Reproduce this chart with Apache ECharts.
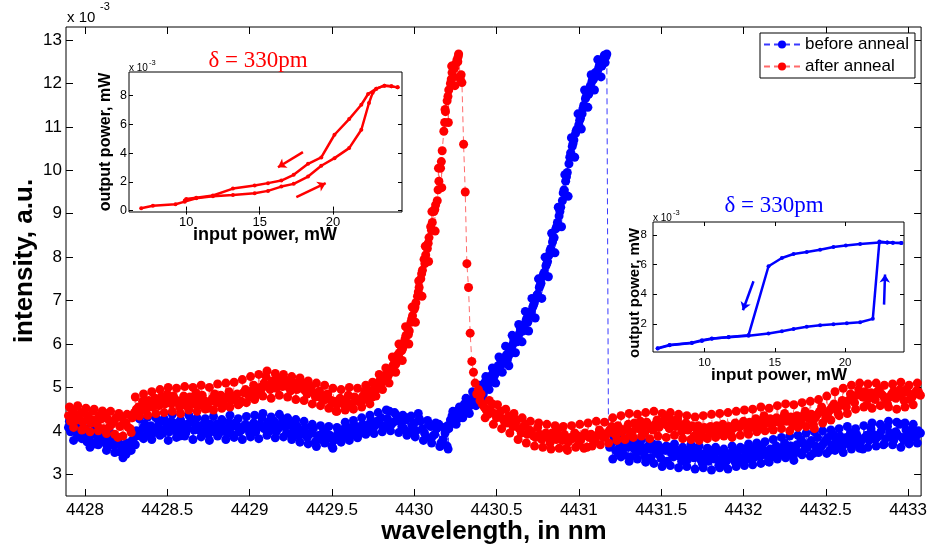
<!DOCTYPE html>
<html>
<head>
<meta charset="utf-8">
<script src="https://cdn.jsdelivr.net/npm/echarts@6/dist/echarts.min.js"></script>
<style>
  html, body { margin: 0; padding: 0; background: #fff; }
  #chart { width: 930px; height: 554px; }
</style>
</head>
<body>
<div id="chart"></div>
<script>
// Transmitted intensity (x 10^-3, a.u.) versus wavelength (nm), [wavelength, intensity]
const beforeAnneal = [
  [4427.900,4.08],[4427.925,4.02],[4427.950,3.95],[4427.975,4.06],[4428.000,3.88],[4428.025,3.80],
  [4428.050,3.92],[4428.075,3.78],[4428.100,3.85],[4428.125,3.72],[4428.150,3.82],[4428.175,3.66],
  [4428.200,3.75],[4428.225,3.58],[4428.250,3.46],[4428.275,3.70],[4428.300,3.85],[4428.325,3.95],
  [4428.350,4.05],[4428.375,3.90],[4428.400,4.12],[4428.425,4.02],[4428.450,4.18],[4428.475,3.95],
  [4428.500,4.10],[4428.525,4.22],[4428.550,4.00],[4428.575,3.88],[4428.600,4.15],[4428.625,4.05],
  [4428.650,4.25],[4428.675,4.10],[4428.700,4.00],[4428.725,4.18],[4428.750,3.92],[4428.775,4.08],
  [4428.800,4.15],[4428.825,3.98],[4428.850,4.05],[4428.875,4.20],[4428.900,3.90],[4428.925,4.10],
  [4428.950,4.02],[4428.975,4.15],[4429.000,3.95],[4429.025,4.18],[4429.050,4.08],[4429.075,4.30],
  [4429.100,4.12],[4429.125,4.00],[4429.150,4.22],[4429.175,4.05],[4429.200,4.28],[4429.225,3.95],
  [4429.250,4.12],[4429.275,4.05],[4429.300,3.88],[4429.325,4.02],[4429.350,3.85],[4429.375,3.95],
  [4429.400,3.75],[4429.425,3.90],[4429.450,4.00],[4429.475,3.82],[4429.500,3.65],[4429.525,3.88],
  [4429.550,3.95],[4429.575,4.05],[4429.600,3.92],[4429.625,4.02],[4429.650,4.10],[4429.675,3.95],
  [4429.700,4.08],[4429.725,4.15],[4429.750,4.05],[4429.775,4.22],[4429.800,4.30],[4429.825,4.12],
  [4429.850,4.45],[4429.875,4.20],[4429.900,4.32],[4429.925,4.10],[4429.950,4.25],[4429.975,3.98],
  [4430.000,4.18],[4430.025,4.40],[4430.050,4.05],[4430.075,3.85],[4430.100,4.10],[4430.125,3.92],
  [4430.150,4.15],[4430.175,3.80],[4430.200,3.65],[4430.210,4.05],
  [4430.22,4.25],[4430.23,4.35],[4430.24,4.20],[4430.25,4.40],[4430.26,4.45],[4430.27,4.30],
  [4430.28,4.50],[4430.29,4.42],[4430.30,4.55],[4430.31,4.48],[4430.32,4.62],[4430.33,4.55],
  [4430.34,4.70],[4430.35,4.60],[4430.36,4.78],[4430.37,4.72],[4430.38,4.90],[4430.39,4.80],
  [4430.40,4.95],[4430.41,5.05],[4430.42,4.85],[4430.43,5.12],[4430.44,5.00],[4430.45,5.15],
  [4430.46,5.25],[4430.47,5.20],[4430.48,5.35],[4430.49,5.30],[4430.50,5.42],[4430.51,5.50],
  [4430.52,5.45],[4430.53,5.60],[4430.54,5.55],[4430.55,5.68],[4430.56,5.75],[4430.57,5.70],
  [4430.58,5.85],[4430.59,5.92],[4430.60,6.00],[4430.61,6.05],[4430.62,6.15],[4430.63,6.10],
  [4430.64,6.25],[4430.65,6.35],[4430.66,6.30],[4430.67,6.45],[4430.68,6.55],[4430.69,6.50],
  [4430.70,6.65],[4430.71,6.75],[4430.72,6.85],[4430.73,6.95],[4430.74,7.05],[4430.75,7.15],
  [4430.76,7.30],[4430.77,7.40],[4430.78,7.55],[4430.79,7.65],[4430.80,7.80],[4430.81,7.90],
  [4430.82,8.05],[4430.83,8.20],[4430.84,8.35],[4430.85,8.45],[4430.86,8.65],[4430.87,8.80],
  [4430.88,8.95],[4430.89,9.15],[4430.90,9.30],[4430.91,9.55],[4430.92,9.75],[4430.93,9.95],
  [4430.94,10.15],[4430.95,10.40],[4430.96,10.55],[4430.97,10.70],[4430.98,10.85],[4430.99,10.95],
  [4431.00,11.05],[4431.01,11.20],[4431.02,11.30],[4431.03,11.50],[4431.04,11.65],[4431.05,11.80],
  [4431.06,11.75],[4431.07,11.95],[4431.08,12.05],[4431.09,12.10],[4431.10,12.25],[4431.11,12.20],
  [4431.12,12.35],[4431.13,12.45],[4431.14,12.40],[4431.15,12.55],[4431.16,12.48],[4431.17,12.68],
  [4431.18,3.95],
  [4431.200,3.72],[4431.225,3.55],[4431.250,3.68],[4431.275,3.45],[4431.300,3.62],[4431.325,3.75],
  [4431.350,3.50],[4431.375,3.66],[4431.400,3.42],[4431.425,3.58],[4431.450,3.70],[4431.475,3.48],
  [4431.500,3.36],[4431.525,3.55],[4431.550,3.62],[4431.575,3.40],[4431.600,3.52],[4431.625,3.30],
  [4431.650,3.46],[4431.675,3.58],[4431.700,3.38],[4431.725,3.50],[4431.750,3.25],[4431.775,3.42],
  [4431.800,3.55],[4431.825,3.35],[4431.850,3.20],[4431.875,3.45],[4431.900,3.32],[4431.925,3.50],
  [4431.950,3.28],[4431.975,3.40],[4432.000,3.58],[4432.025,3.35],[4432.050,3.48],[4432.075,3.62],
  [4432.100,3.40],[4432.125,3.55],[4432.150,3.30],[4432.175,3.50],[4432.200,3.65],[4432.225,3.45],
  [4432.250,3.72],[4432.275,3.55],[4432.300,3.40],[4432.325,3.68],[4432.350,3.80],[4432.375,3.58],
  [4432.400,3.70],[4432.425,3.48],[4432.450,3.85],[4432.475,3.65],[4432.500,3.78],[4432.525,3.55],
  [4432.550,3.90],[4432.575,3.72],[4432.600,3.62],[4432.625,3.85],[4432.650,3.95],[4432.675,3.70],
  [4432.700,3.82],[4432.725,3.58],[4432.750,3.90],[4432.775,4.05],[4432.800,3.80],[4432.825,3.92],
  [4432.850,3.68],[4432.875,4.10],[4432.900,3.85],[4432.925,3.98],[4432.950,4.15],[4432.975,3.78],
  [4433.000,3.92],[4433.025,4.05],[4433.050,3.88],[4433.075,3.95]
];
// Intermediate samples of the same sweep
const beforeAnnealMid = [
  [4427.9125,3.98],[4427.9375,4.12],[4427.9625,3.90],[4427.9875,4.00],[4428.0125,3.75],[4428.0375,3.95],
  [4428.0625,3.70],[4428.0875,3.90],[4428.1125,3.80],[4428.1375,3.62],[4428.1625,3.78],[4428.1875,3.70],
  [4428.2125,3.52],[4428.2375,3.68],[4428.2625,3.60],[4428.2875,3.78],[4428.3125,4.00],[4428.3375,3.88],
  [4428.3625,4.15],[4428.3875,4.05],[4428.4125,3.95],[4428.4375,4.08],[4428.4625,4.02],[4428.4875,4.20],
  [4428.5125,3.98],[4428.5375,4.12],[4428.5625,4.18],[4428.5875,4.05],[4428.6125,3.95],[4428.6375,4.20],
  [4428.6625,4.02],[4428.6875,4.12],[4428.7125,3.95],[4428.7375,4.05],[4428.7625,4.15],[4428.7875,3.98],
  [4428.8125,4.10],[4428.8375,4.22],[4428.8625,3.95],[4428.8875,4.08],[4428.9125,4.18],[4428.9375,3.98],
  [4428.9625,4.10],[4428.9875,4.05],[4429.0125,4.12],[4429.0375,3.98],[4429.0625,4.15],[4429.0875,4.05],
  [4429.1125,4.20],[4429.1375,4.08],[4429.1625,3.98],[4429.1875,4.15],[4429.2125,4.10],[4429.2375,4.20],
  [4429.2625,3.95],[4429.2875,4.12],[4429.3125,3.95],[4429.3375,4.08],[4429.3625,3.92],[4429.3875,4.05],
  [4429.4125,3.88],[4429.4375,3.80],[4429.4625,3.95],[4429.4875,3.90],[4429.5125,3.78],[4429.5375,4.00],
  [4429.5625,3.85],[4429.5875,3.98],[4429.6125,4.08],[4429.6375,3.90],[4429.6625,4.05],[4429.6875,4.15],
  [4429.7125,4.00],[4429.7375,4.25],[4429.7625,4.12],[4429.7875,4.18],[4429.8125,4.05],[4429.8375,4.28],
  [4429.8625,4.15],[4429.8875,4.38],[4429.9125,4.22],[4429.9375,4.05],[4429.9625,4.30],[4429.9875,4.12],
  [4430.0125,4.00],[4430.0375,4.22],[4430.0625,3.95],[4430.0875,4.15],[4430.1125,3.88],[4430.1375,4.05],
  [4430.1625,3.72],[4430.1875,3.95],[4430.2025,4.12],
  [4430.225,4.18],[4430.245,4.32],[4430.265,4.28],[4430.285,4.38],[4430.305,4.62],[4430.325,4.50],
  [4430.345,4.64],[4430.365,4.85],[4430.385,4.75],[4430.405,4.88],[4430.425,5.00],[4430.445,5.08],
  [4430.465,5.12],[4430.485,5.25],[4430.505,5.38],[4430.525,5.55],[4430.545,5.62],[4430.565,5.62],
  [4430.585,5.78],[4430.605,6.10],[4430.625,6.05],[4430.645,6.35],[4430.665,6.42],[4430.685,6.60],
  [4430.705,6.72],[4430.725,6.90],[4430.745,7.12],[4430.765,7.35],[4430.785,7.60],[4430.805,7.85],
  [4430.825,8.15],[4430.845,8.42],[4430.865,8.70],[4430.885,9.05],[4430.905,9.48],[4430.925,9.85],
  [4430.945,10.30],[4430.965,10.62],[4430.985,10.92],[4431.005,11.15],[4431.025,11.42],[4431.045,11.70],
  [4431.065,11.88],[4431.085,12.12],[4431.105,12.18],[4431.125,12.42],[4431.145,12.50],[4431.165,12.62],
  [4431.1875,3.62],[4431.2125,3.80],[4431.2375,3.48],[4431.2625,3.58],[4431.2875,3.70],[4431.3125,3.40],
  [4431.3375,3.58],[4431.3625,3.68],[4431.3875,3.52],[4431.4125,3.62],[4431.4375,3.38],[4431.4625,3.55],
  [4431.4875,3.45],[4431.5125,3.60],[4431.5375,3.30],[4431.5625,3.48],[4431.5875,3.58],[4431.6125,3.42],
  [4431.6375,3.55],[4431.6625,3.35],[4431.6875,3.48],[4431.7125,3.60],[4431.7375,3.35],[4431.7625,3.48],
  [4431.7875,3.30],[4431.8125,3.45],[4431.8375,3.52],[4431.8625,3.35],[4431.8875,3.25],[4431.9125,3.42],
  [4431.9375,3.38],[4431.9625,3.52],[4431.9875,3.30],[4432.0125,3.45],[4432.0375,3.55],[4432.0625,3.38],
  [4432.0875,3.50],[4432.1125,3.62],[4432.1375,3.45],[4432.1625,3.58],[4432.1875,3.40],[4432.2125,3.55],
  [4432.2375,3.62],[4432.2625,3.50],[4432.2875,3.65],[4432.3125,3.58],[4432.3375,3.50],[4432.3625,3.72],
  [4432.3875,3.62],[4432.4125,3.78],[4432.4375,3.65],[4432.4625,3.58],[4432.4875,3.72],[4432.5125,3.85],
  [4432.5375,3.68],[4432.5625,3.80],[4432.5875,3.88],[4432.6125,3.75],[4432.6375,3.70],[4432.6625,3.82],
  [4432.6875,3.92],[4432.7125,3.75],[4432.7375,3.85],[4432.7625,3.78],[4432.7875,3.92],[4432.8125,3.85],
  [4432.8375,4.00],[4432.8625,3.82],[4432.8875,3.95],[4432.9125,3.78],[4432.9375,3.90],[4432.9625,3.85],
  [4432.9875,4.02],[4433.0125,3.82],[4433.0375,3.95],[4433.0625,4.00]
];
// Scattered samples at the edges of the noise band
const beforeAnnealOuter = [
  [4427.906,4.22],[4427.931,3.78],[4427.956,4.15],[4427.981,3.82],[4428.006,4.05],[4428.031,3.62],
  [4428.056,4.10],[4428.081,3.68],[4428.106,3.98],[4428.131,3.55],[4428.156,3.95],[4428.181,3.50],
  [4428.206,3.85],[4428.231,3.38],[4428.256,3.72],[4428.281,3.55],[4428.306,3.68],[4428.331,4.28],
  [4428.356,3.82],[4428.381,4.32],[4428.406,3.80],[4428.431,4.30],[4428.456,3.90],[4428.481,4.28],
  [4428.506,3.78],[4428.531,4.38],[4428.556,3.85],[4428.581,4.25],[4428.606,3.88],[4428.631,4.36],
  [4428.656,3.80],[4428.681,4.30],[4428.706,3.86],[4428.731,4.28],[4428.756,3.78],[4428.781,4.33],
  [4428.806,3.88],[4428.831,4.26],[4428.856,3.80],[4428.881,4.36],[4428.906,3.85],[4428.931,4.28],
  [4428.956,3.80],[4428.981,4.33],[4429.006,3.86],[4429.031,4.36],[4429.056,3.82],[4429.081,4.40],
  [4429.106,3.90],[4429.131,4.32],[4429.156,3.84],[4429.181,4.38],[4429.206,3.86],[4429.231,4.30],
  [4429.256,3.80],[4429.281,4.26],[4429.306,3.74],[4429.331,4.22],[4429.356,3.70],[4429.381,4.15],
  [4429.406,3.64],[4429.431,4.12],[4429.456,3.72],[4429.481,4.10],[4429.506,3.60],[4429.531,4.08],
  [4429.556,3.74],[4429.581,4.20],[4429.606,3.78],[4429.631,4.24],[4429.656,3.84],[4429.681,4.30],
  [4429.706,3.92],[4429.731,4.36],[4429.756,3.94],[4429.781,4.42],[4429.806,3.98],[4429.831,4.48],
  [4429.856,4.00],[4429.881,4.42],[4429.906,3.96],[4429.931,4.36],[4429.956,3.90],[4429.981,4.34],
  [4430.006,3.86],[4430.031,4.28],[4430.056,3.78],[4430.081,4.24],[4430.106,3.72],[4430.131,4.18],
  [4430.156,3.64],[4430.181,4.08],[4430.206,3.58],
  [4430.235,4.45],[4430.255,4.15],[4430.275,4.55],[4430.295,4.30],[4430.315,4.75],[4430.335,4.40],
  [4430.355,4.90],[4430.375,4.58],[4430.395,5.05],[4430.415,4.75],[4430.435,5.25],[4430.455,4.95],
  [4430.475,5.45],[4430.495,5.10],[4430.515,5.70],[4430.535,5.35],[4430.555,5.95],[4430.575,5.50],
  [4430.595,6.20],[4430.615,5.80],[4430.635,6.45],[4430.655,6.05],[4430.675,6.75],[4430.695,6.30],
  [4430.715,7.05],[4430.735,6.60],[4430.755,7.50],[4430.775,7.05],[4430.795,8.00],[4430.815,7.55],
  [4430.835,8.55],[4430.855,8.10],[4430.875,9.15],[4430.895,8.70],[4430.915,9.90],[4430.935,9.40],
  [4430.955,10.75],[4430.975,10.30],[4430.995,11.30],[4431.015,10.95],[4431.035,11.85],[4431.055,11.45],
  [4431.075,12.20],[4431.095,11.85],[4431.115,12.55],[4431.135,12.15],[4431.155,12.65],
  [4431.206,3.35],[4431.231,3.85],[4431.256,3.40],[4431.281,3.82],[4431.306,3.30],[4431.331,3.78],
  [4431.356,3.35],[4431.381,3.80],[4431.406,3.28],[4431.431,3.75],[4431.456,3.25],[4431.481,3.68],
  [4431.506,3.18],[4431.531,3.65],[4431.556,3.20],[4431.581,3.70],[4431.606,3.15],[4431.631,3.62],
  [4431.656,3.18],[4431.681,3.68],[4431.706,3.12],[4431.731,3.65],[4431.756,3.15],[4431.781,3.60],
  [4431.806,3.10],[4431.831,3.62],[4431.856,3.15],[4431.881,3.58],[4431.906,3.12],[4431.931,3.65],
  [4431.956,3.18],[4431.981,3.62],[4432.006,3.20],[4432.031,3.70],[4432.056,3.22],[4432.081,3.72],
  [4432.106,3.25],[4432.131,3.75],[4432.156,3.28],[4432.181,3.80],[4432.206,3.35],[4432.231,3.85],
  [4432.256,3.38],[4432.281,3.88],[4432.306,3.32],[4432.331,3.90],[4432.356,3.45],[4432.381,3.95],
  [4432.406,3.42],[4432.431,3.98],[4432.456,3.50],[4432.481,4.00],[4432.506,3.48],[4432.531,4.02],
  [4432.556,3.55],[4432.581,4.05],[4432.606,3.50],[4432.631,4.10],[4432.656,3.58],[4432.681,4.05],
  [4432.706,3.60],[4432.731,4.12],[4432.756,3.62],[4432.781,4.18],[4432.806,3.65],[4432.831,4.15],
  [4432.856,3.70],[4432.881,4.22],[4432.906,3.68],[4432.931,4.20],[4432.956,3.62],[4432.981,4.18],
  [4433.006,3.70],[4433.031,4.15],[4433.056,3.72]
];

const afterAnneal = [
  [4427.900,4.35],[4427.925,4.48],[4427.950,4.25],[4427.975,4.42],[4428.000,4.05],[4428.025,4.30],
  [4428.050,4.45],[4428.075,4.15],[4428.100,4.28],[4428.125,4.40],[4428.150,4.10],[4428.175,4.22],
  [4428.200,3.85],[4428.225,4.32],[4428.250,4.18],[4428.275,4.05],[4428.300,4.42],[4428.325,4.55],
  [4428.350,4.68],[4428.375,4.50],[4428.400,4.62],[4428.425,4.75],[4428.450,4.58],[4428.475,4.70],
  [4428.500,4.85],[4428.525,4.62],[4428.550,4.72],[4428.575,4.55],[4428.600,4.80],[4428.625,4.66],
  [4428.650,4.74],[4428.675,4.88],[4428.700,4.60],[4428.725,4.70],[4428.750,4.52],[4428.775,4.75],
  [4428.800,4.65],[4428.825,4.82],[4428.850,4.58],[4428.875,4.90],[4428.900,4.72],[4428.925,4.85],
  [4428.950,4.68],[4428.975,4.95],[4429.000,4.78],[4429.025,5.05],[4429.050,4.88],[4429.075,4.98],
  [4429.100,5.25],[4429.125,4.95],[4429.150,5.10],[4429.175,5.20],[4429.200,5.02],[4429.225,5.15],
  [4429.250,4.92],[4429.275,5.08],[4429.300,4.98],[4429.325,5.10],[4429.350,4.85],[4429.375,5.00],
  [4429.400,4.78],[4429.425,4.92],[4429.450,4.70],[4429.475,4.85],[4429.500,4.62],[4429.525,4.45],
  [4429.550,4.75],[4429.575,4.60],[4429.600,4.82],[4429.625,4.55],[4429.650,4.72],[4429.675,4.65],
  [4429.700,4.90],[4429.725,4.78],
  [4429.74,4.85],[4429.75,4.95],[4429.76,4.88],[4429.77,5.05],[4429.78,4.98],[4429.79,5.15],
  [4429.80,5.08],[4429.81,5.22],[4429.82,5.18],[4429.83,5.30],[4429.84,5.25],[4429.85,5.40],
  [4429.86,5.35],[4429.87,5.50],[4429.88,5.62],[4429.89,5.55],[4429.90,5.75],[4429.91,5.80],
  [4429.92,5.95],[4429.93,5.90],[4429.94,6.05],[4429.95,6.20],[4429.96,6.35],[4429.97,6.30],
  [4429.98,6.50],[4429.99,6.65],[4430.00,6.80],[4430.01,6.95],[4430.02,7.10],[4430.03,7.30],
  [4430.04,7.50],[4430.05,7.70],[4430.06,7.95],[4430.07,8.05],[4430.08,8.20],[4430.09,8.45],
  [4430.10,8.70],[4430.11,8.80],[4430.12,9.05],[4430.13,9.20],[4430.14,9.30],[4430.15,9.75],
  [4430.16,10.05],[4430.17,10.45],[4430.18,10.90],[4430.19,11.35],[4430.20,11.60],[4430.21,11.85],
  [4430.22,12.00],[4430.23,12.25],[4430.24,12.15],[4430.25,12.45],[4430.26,12.55],[4430.27,12.68],
  [4430.28,12.10],[4430.29,12.02],[4430.30,10.60],[4430.31,9.50],[4430.32,7.85],[4430.33,7.30],
  [4430.34,6.25],[4430.35,5.60],[4430.36,5.35],[4430.37,5.10],[4430.38,4.85],[4430.39,4.95],
  [4430.40,4.70],
  [4430.425,4.55],[4430.450,4.38],[4430.475,4.62],[4430.500,4.30],[4430.525,4.45],[4430.550,4.20],
  [4430.575,4.35],[4430.600,4.10],[4430.625,4.25],[4430.650,3.95],[4430.675,4.15],[4430.700,4.02],
  [4430.725,3.88],[4430.750,4.08],[4430.775,3.80],[4430.800,3.95],[4430.825,3.72],[4430.850,3.90],
  [4430.875,4.05],[4430.900,3.78],[4430.925,3.60],[4430.950,3.85],[4430.975,3.95],[4431.000,3.70],
  [4431.025,3.88],[4431.050,3.62],[4431.075,3.92],[4431.100,3.80],[4431.125,4.02],[4431.150,3.85],
  [4431.175,3.95],[4431.200,4.10],[4431.225,3.90],[4431.250,4.05],[4431.275,3.82],[4431.300,4.15],
  [4431.325,3.98],[4431.350,4.08],[4431.375,4.22],[4431.400,3.95],[4431.425,4.12],[4431.450,4.02],
  [4431.475,4.25],[4431.500,4.15],[4431.525,4.32],[4431.550,4.05],[4431.575,4.20],[4431.600,4.28],
  [4431.625,3.98],[4431.650,4.18],[4431.675,4.08],[4431.700,3.88],[4431.725,4.12],[4431.750,4.00],
  [4431.775,3.85],[4431.800,4.10],[4431.825,4.02],[4431.850,3.92],[4431.875,4.15],[4431.900,4.05],
  [4431.925,3.90],[4431.950,4.18],[4431.975,4.08],[4432.000,4.22],[4432.025,4.00],[4432.050,4.15],
  [4432.075,4.28],[4432.100,4.10],[4432.125,4.35],[4432.150,4.20],[4432.175,4.05],[4432.200,4.30],
  [4432.225,4.18],[4432.250,4.40],[4432.275,4.25],[4432.300,4.12],[4432.325,4.35],[4432.350,4.22],
  [4432.375,4.45],[4432.400,4.28],[4432.425,4.15],[4432.450,4.38],[4432.475,4.55],[4432.500,4.30],
  [4432.525,4.48],[4432.550,4.62],[4432.575,4.40],[4432.600,4.70],[4432.625,4.55],[4432.650,4.85],
  [4432.675,4.65],[4432.700,4.95],[4432.725,4.78],[4432.750,4.60],[4432.775,4.88],[4432.800,4.72],
  [4432.825,4.95],[4432.850,4.80],[4432.875,4.62],[4432.900,4.85],[4432.925,4.75],[4432.950,4.95],
  [4432.975,4.70],[4433.000,4.88],[4433.025,4.78],[4433.050,4.92],[4433.075,4.82]
];
const afterAnnealMid = [
  [4427.9125,4.22],[4427.9375,4.38],[4427.9625,4.30],[4427.9875,4.20],[4428.0125,4.35],[4428.0375,4.18],
  [4428.0625,4.25],[4428.0875,4.35],[4428.1125,4.05],[4428.1375,4.28],[4428.1625,4.15],[4428.1875,4.30],
  [4428.2125,4.10],[4428.2375,4.20],[4428.2625,4.08],[4428.2875,4.30],[4428.3125,4.50],[4428.3375,4.45],
  [4428.3625,4.58],[4428.3875,4.70],[4428.4125,4.55],[4428.4375,4.65],[4428.4625,4.78],[4428.4875,4.62],
  [4428.5125,4.72],[4428.5375,4.80],[4428.5625,4.65],[4428.5875,4.70],[4428.6125,4.58],[4428.6375,4.78],
  [4428.6625,4.62],[4428.6875,4.72],[4428.7125,4.82],[4428.7375,4.62],[4428.7625,4.68],[4428.7875,4.85],
  [4428.8125,4.72],[4428.8375,4.66],[4428.8625,4.78],[4428.8875,4.70],[4428.9125,4.80],[4428.9375,4.62],
  [4428.9625,4.88],[4428.9875,4.85],[4429.0125,4.92],[4429.0375,4.80],[4429.0625,5.00],[4429.0875,5.10],
  [4429.1125,5.05],[4429.1375,5.15],[4429.1625,4.98],[4429.1875,5.08],[4429.2125,5.18],[4429.2375,5.00],
  [4429.2625,5.12],[4429.2875,4.95],[4429.3125,5.05],[4429.3375,4.92],[4429.3625,4.98],[4429.3875,4.88],
  [4429.4125,4.85],[4429.4375,4.75],[4429.4625,4.82],[4429.4875,4.72],[4429.5125,4.68],[4429.5375,4.62],
  [4429.5625,4.68],[4429.5875,4.72],[4429.6125,4.62],[4429.6375,4.78],[4429.6625,4.68],[4429.6875,4.80],
  [4429.7125,4.72],[4429.7375,4.92],
  [4429.745,4.78],[4429.765,4.98],[4429.785,5.10],[4429.805,5.15],[4429.825,5.22],[4429.845,5.32],
  [4429.865,5.45],[4429.885,5.52],[4429.905,5.70],[4429.925,5.85],[4429.945,6.12],[4429.965,6.22],
  [4429.985,6.58],[4430.005,6.85],[4430.025,7.20],[4430.045,7.62],[4430.065,7.85],[4430.085,8.32],
  [4430.105,8.62],[4430.125,9.10],[4430.145,9.55],[4430.165,10.20],[4430.185,11.10],[4430.205,11.70],
  [4430.225,12.10],[4430.245,12.35],[4430.265,12.50],[4430.285,12.20],
  [4430.4125,4.62],[4430.4375,4.48],[4430.4625,4.50],[4430.4875,4.40],[4430.5125,4.35],[4430.5375,4.28],
  [4430.5625,4.18],[4430.5875,4.22],[4430.6125,4.15],[4430.6375,4.05],[4430.6625,4.10],[4430.6875,3.92],
  [4430.7125,3.98],[4430.7375,3.85],[4430.7625,3.92],[4430.7875,3.88],[4430.8125,3.85],[4430.8375,3.95],
  [4430.8625,3.80],[4430.8875,3.88],[4430.9125,3.92],[4430.9375,3.75],[4430.9625,3.82],[4430.9875,3.90],
  [4431.0125,3.80],[4431.0375,3.95],[4431.0625,3.85],[4431.0875,3.78],[4431.1125,3.90],[4431.1375,3.95],
  [4431.1625,3.88],[4431.1875,4.02],[4431.2125,3.95],[4431.2375,4.12],[4431.2625,3.98],[4431.2875,4.05],
  [4431.3125,3.92],[4431.3375,4.18],[4431.3625,4.05],[4431.3875,4.10],[4431.4125,4.20],[4431.4375,4.05],
  [4431.4625,4.15],[4431.4875,4.08],[4431.5125,4.22],[4431.5375,4.12],[4431.5625,4.25],[4431.5875,4.10],
  [4431.6125,4.15],[4431.6375,4.08],[4431.6625,4.02],[4431.6875,4.12],[4431.7125,4.05],[4431.7375,3.95],
  [4431.7625,4.08],[4431.7875,4.02],[4431.8125,3.95],[4431.8375,4.12],[4431.8625,4.05],[4431.8875,4.00],
  [4431.9125,4.10],[4431.9375,4.05],[4431.9625,4.12],[4431.9875,4.15],[4432.0125,4.12],[4432.0375,4.20],
  [4432.0625,4.08],[4432.0875,4.22],[4432.1125,4.25],[4432.1375,4.18],[4432.1625,4.28],[4432.1875,4.20],
  [4432.2125,4.25],[4432.2375,4.30],[4432.2625,4.22],[4432.2875,4.32],[4432.3125,4.28],[4432.3375,4.20],
  [4432.3625,4.35],[4432.3875,4.32],[4432.4125,4.38],[4432.4375,4.30],[4432.4625,4.45],[4432.4875,4.42],
  [4432.5125,4.40],[4432.5375,4.55],[4432.5625,4.50],[4432.5875,4.58],[4432.6125,4.65],[4432.6375,4.70],
  [4432.6625,4.75],[4432.6875,4.82],[4432.7125,4.85],[4432.7375,4.90],[4432.7625,4.75],[4432.7875,4.80],
  [4432.8125,4.90],[4432.8375,4.85],[4432.8625,4.70],[4432.8875,4.78],[4432.9125,4.92],[4432.9375,4.80],
  [4432.9625,4.85],[4432.9875,4.95],[4433.0125,4.72],[4433.0375,4.85],[4433.0625,4.90]
];
const afterAnnealOuter = [
  [4427.906,4.55],[4427.931,4.08],[4427.956,4.58],[4427.981,4.02],[4428.006,4.52],[4428.031,3.98],
  [4428.056,4.50],[4428.081,4.00],[4428.106,4.46],[4428.131,3.94],[4428.156,4.45],[4428.181,3.92],
  [4428.206,4.40],[4428.231,3.88],[4428.256,4.38],[4428.281,3.96],[4428.306,4.78],[4428.331,4.34],
  [4428.356,4.85],[4428.381,4.36],[4428.406,4.90],[4428.431,4.40],[4428.456,4.95],[4428.481,4.42],
  [4428.506,5.00],[4428.531,4.45],[4428.556,4.98],[4428.581,4.40],[4428.606,5.02],[4428.631,4.48],
  [4428.656,5.00],[4428.681,4.45],[4428.706,5.05],[4428.731,4.50],[4428.756,5.00],[4428.781,4.48],
  [4428.806,5.08],[4428.831,4.52],[4428.856,5.10],[4428.881,4.55],[4428.906,5.12],[4428.931,4.60],
  [4428.956,5.18],[4428.981,4.65],[4429.006,5.25],[4429.031,4.72],[4429.056,5.30],[4429.081,4.80],
  [4429.106,5.38],[4429.131,4.75],[4429.156,5.32],[4429.181,4.82],[4429.206,5.30],[4429.231,4.78],
  [4429.256,5.25],[4429.281,4.72],[4429.306,5.22],[4429.331,4.70],[4429.356,5.15],[4429.381,4.62],
  [4429.406,5.10],[4429.431,4.58],[4429.456,5.05],[4429.481,4.52],[4429.506,4.98],[4429.531,4.45],
  [4429.556,4.95],[4429.581,4.48],[4429.606,5.00],[4429.631,4.50],[4429.656,4.98],[4429.681,4.55],
  [4429.706,5.05],[4429.731,4.62],
  [4429.7475,5.12],[4429.7675,4.80],[4429.7875,5.30],[4429.8075,4.95],[4429.8275,5.45],[4429.8475,5.10],
  [4429.8675,5.70],[4429.8875,5.35],[4429.9075,6.00],[4429.9275,5.62],[4429.9475,6.40],[4429.9675,6.00],
  [4429.9875,6.85],[4430.0075,6.50],[4430.0275,7.45],[4430.0475,7.10],[4430.0675,8.25],[4430.0875,7.90],
  [4430.1075,9.05],[4430.1275,8.60],[4430.1475,10.05],[4430.1675,9.60],[4430.1875,11.40],[4430.2075,11.10],
  [4430.2275,12.40],[4430.2475,11.95],[4430.2675,12.62],
  [4430.406,4.85],[4430.431,4.30],[4430.456,4.70],[4430.481,4.15],[4430.506,4.60],[4430.531,4.05],
  [4430.556,4.50],[4430.581,3.95],[4430.606,4.40],[4430.631,3.80],[4430.656,4.30],[4430.681,3.72],
  [4430.706,4.22],[4430.731,3.65],[4430.756,4.18],[4430.781,3.62],[4430.806,4.15],[4430.831,3.58],
  [4430.856,4.12],[4430.881,3.60],[4430.906,4.10],[4430.931,3.55],[4430.956,4.12],[4430.981,3.62],
  [4431.006,4.15],[4431.031,3.60],[4431.056,4.18],[4431.081,3.65],[4431.106,4.22],[4431.131,3.68],
  [4431.156,4.20],[4431.181,3.72],[4431.206,4.30],[4431.231,3.78],[4431.256,4.35],[4431.281,3.80],
  [4431.306,4.40],[4431.331,3.85],[4431.356,4.38],[4431.381,3.88],[4431.406,4.42],[4431.431,3.82],
  [4431.456,4.45],[4431.481,3.88],[4431.506,4.40],[4431.531,3.85],[4431.556,4.42],[4431.581,3.90],
  [4431.606,4.38],[4431.631,3.82],[4431.656,4.35],[4431.681,3.80],[4431.706,4.32],[4431.731,3.78],
  [4431.756,4.35],[4431.781,3.82],[4431.806,4.38],[4431.831,3.85],[4431.856,4.40],[4431.881,3.88],
  [4431.906,4.42],[4431.931,3.85],[4431.956,4.45],[4431.981,3.90],[4432.006,4.48],[4432.031,3.92],
  [4432.056,4.50],[4432.081,3.98],[4432.106,4.55],[4432.131,4.00],[4432.156,4.52],[4432.181,4.02],
  [4432.206,4.58],[4432.231,4.05],[4432.256,4.62],[4432.281,4.00],[4432.306,4.60],[4432.331,4.08],
  [4432.356,4.65],[4432.381,4.10],[4432.406,4.68],[4432.431,4.05],[4432.456,4.72],[4432.481,4.18],
  [4432.506,4.80],[4432.531,4.25],[4432.556,4.90],[4432.581,4.35],[4432.606,4.98],[4432.631,4.40],
  [4432.656,5.05],[4432.681,4.50],[4432.706,5.10],[4432.731,4.55],[4432.756,5.08],[4432.781,4.52],
  [4432.806,5.10],[4432.831,4.58],[4432.856,5.05],[4432.881,4.55],[4432.906,5.08],[4432.931,4.50],
  [4432.956,5.12],[4432.981,4.55],[4433.006,5.05],[4433.031,4.60],[4433.056,5.10]
];

// Hysteresis loops: output power (x 10^-3 mW) versus input power (mW), [input, output]
const redLoopUp = [
  [6.93,0.16],[7.73,0.33],[9.27,0.44],[9.9,0.62],[10.0,0.74],[10.68,0.86],[11.82,1.0],[13.18,1.09],
  [14.66,1.21],[15.57,1.37],[16.48,1.67],[17.32,1.86],[18.3,2.37],[19.2,3.12],[20.1,3.65],[21.1,4.35],
  [21.93,5.63],[22.45,7.49],[22.7,8.2],[22.95,8.49],[23.5,8.7],[23.98,8.65],[24.4,8.58]
];
const redLoopDown = [
  [24.4,8.58],[23.98,8.65],[23.5,8.7],[22.95,8.49],[22.39,8.12],[21.93,7.37],[21.1,6.37],[20.1,5.28],
  [19.2,3.7],[18.3,3.26],[17.32,2.49],[16.48,2.09],[15.57,1.91],[14.66,1.74],[13.18,1.53],[11.82,1.05],
  [10.68,0.9],[10.0,0.8],[9.9,0.7]
];
const blueLoopUp = [
  [6.66,0.36],[7.51,0.58],[9.1,0.72],[9.81,0.9],[10.52,1.01],[11.71,1.1],[13.13,1.2],[14.55,1.35],
  [15.5,1.5],[16.33,1.66],[17.27,1.8],[18.22,1.91],[19.17,1.98],[20.12,2.04],[21.07,2.11],[21.97,2.34],
  [22.44,7.57],[23.0,7.5],[23.4,7.48],[24.0,7.46]
];
const blueLoopDown = [
  [24.0,7.46],[23.4,7.48],[23.0,7.5],[22.44,7.5],[21.07,7.39],[20.05,7.3],[19.17,7.19],[18.22,7.01],
  [17.27,6.85],[16.33,6.72],[15.5,6.45],[14.55,5.89],[13.13,1.24],[11.71,1.12],[10.52,1.0],[9.81,0.85],
  [9.1,0.7],[7.51,0.55],[6.66,0.33]
];
// Sweep-direction arrows, [from, to]
const redArrows = [[[17.95,4.07],[16.25,3.02]], [[17.5,0.93],[19.5,1.91]]];
const blueArrows = [[[13.48,4.88],[12.73,2.92]], [[22.77,3.3],[22.84,5.33]]];

// Tick values
const wavelengthTicks = [4428, 4428.5, 4429, 4429.5, 4430, 4430.5, 4431, 4431.5, 4432, 4432.5, 4433];
const intensityTicks = [3, 4, 5, 6, 7, 8, 9, 10, 11, 12, 13];
const inputPowerTicks = [10, 15, 20];
const redOutputTicks = [0, 2, 4, 6, 8];
const blueOutputTicks = [2, 4, 6, 8];

const FONT = "'Liberation Sans', Arial, Helvetica, sans-serif";
const SERIF = "'Liberation Serif', 'Times New Roman', serif";

// merge the sample sets of one sweep in wavelength order
function sweep() {
  const all = [];
  for (let i = 0; i < arguments.length; i++) all.push.apply(all, arguments[i]);
  return all.sort(function (p, q) { return p[0] - q[0]; });
}

function valueAxis(grid, position, min, max, ticks, o) {
  return {
    type: 'value', gridIndex: grid, position: position, min: min, max: max,
    axisLine: { show: false },
    splitLine: { show: false },
    axisTick: { show: true, inside: true, length: o.tickLen, customValues: ticks,
                lineStyle: { color: '#000', width: 1 } },
    axisLabel: { show: !!o.labels, customValues: ticks, color: '#000', fontFamily: FONT,
                 fontSize: o.fontSize || 12, margin: o.margin || 4,
                 formatter: function (v) { return String(v); } }
  };
}

const chart = echarts.init(document.getElementById('chart'), null, { renderer: 'canvas' });

const xMain = [4427.885, 4433.079], yMain = [2.5, 13.3];
const xRed = [6.1, 24.7], yRed = [-0.1, 9.65];
const xBlue = [6.33, 24.19], yBlue = [0.1, 8.88];

function arrowSeries(list, color, xi, yi) {
  return {
    type: 'lines', coordinateSystem: 'cartesian2d', xAxisIndex: xi, yAxisIndex: yi,
    polyline: false, z: 6, silent: true,
    symbol: ['none', 'arrow'], symbolSize: 8,
    lineStyle: { color: color, width: 2.5, opacity: 1 },
    data: list.map(function (c) { return { coords: c }; })
  };
}

function loopSeries(name, data, color, xi, yi) {
  return {
    type: 'line', name: name, data: data, xAxisIndex: xi, yAxisIndex: yi, z: 5,
    symbol: 'circle', symbolSize: 4, showAllSymbol: true,
    itemStyle: { color: color }, lineStyle: { color: color, width: 2.5 }
  };
}

const option = {
  animation: false,
  backgroundColor: '#fff',
  grid: [
    { left: 66, top: 27, right: 8, bottom: 58, show: true, backgroundColor: '#fff', borderColor: '#000', borderWidth: 1 },
    { left: 129, top: 72, width: 273, height: 140, show: true, backgroundColor: '#fff', borderColor: '#000', borderWidth: 1 },
    { left: 653, top: 222, width: 251, height: 130, show: true, backgroundColor: '#fff', borderColor: '#000', borderWidth: 1 }
  ],
  xAxis: [
    valueAxis(0, 'bottom', xMain[0], xMain[1], wavelengthTicks, { tickLen: 7, labels: true, fontSize: 17, margin: 6 }),
    valueAxis(0, 'top', xMain[0], xMain[1], wavelengthTicks, { tickLen: 7 }),
    valueAxis(1, 'bottom', xRed[0], xRed[1], inputPowerTicks, { tickLen: 4, labels: true, fontSize: 13, margin: 4 }),
    valueAxis(1, 'top', xRed[0], xRed[1], inputPowerTicks, { tickLen: 4 }),
    valueAxis(2, 'bottom', xBlue[0], xBlue[1], inputPowerTicks, { tickLen: 4, labels: true, fontSize: 11.5, margin: 5 }),
    valueAxis(2, 'top', xBlue[0], xBlue[1], inputPowerTicks, { tickLen: 4 })
  ],
  yAxis: [
    valueAxis(0, 'left', yMain[0], yMain[1], intensityTicks, { tickLen: 7, labels: true, fontSize: 17, margin: 4 }),
    valueAxis(0, 'right', yMain[0], yMain[1], intensityTicks, { tickLen: 7 }),
    valueAxis(1, 'left', yRed[0], yRed[1], redOutputTicks, { tickLen: 4, labels: true, fontSize: 12.5, margin: 2 }),
    valueAxis(1, 'right', yRed[0], yRed[1], redOutputTicks, { tickLen: 4 }),
    valueAxis(2, 'left', yBlue[0], yBlue[1], blueOutputTicks, { tickLen: 4, labels: true, fontSize: 11.5, margin: 6 }),
    valueAxis(2, 'right', yBlue[0], yBlue[1], blueOutputTicks, { tickLen: 4 })
  ],
  legend: {
    data: ['before anneal', 'after anneal'],
    orient: 'vertical', left: 760, top: 33,
    itemWidth: 36, itemHeight: 10, itemGap: 5,
    padding: [3, 6, 3, 3],
    backgroundColor: '#fff', borderColor: '#000', borderWidth: 1, borderRadius: 0,
    textStyle: { fontSize: 17, fontFamily: FONT, color: '#000' },
    selectedMode: false
  },
  series: [
    {
      type: 'line', name: 'before anneal', data: sweep(beforeAnneal, beforeAnnealMid, beforeAnnealOuter),
      xAxisIndex: 0, yAxisIndex: 0, z: 2,
      symbol: 'circle', symbolSize: 9, showAllSymbol: true,
      itemStyle: { color: '#0000ff' },
      lineStyle: { color: '#3a3aff', width: 1, type: [6, 4] }
    },
    {
      type: 'line', name: 'after anneal', data: sweep(afterAnneal, afterAnnealMid, afterAnnealOuter),
      xAxisIndex: 0, yAxisIndex: 0, z: 3,
      symbol: 'circle', symbolSize: 9, showAllSymbol: true,
      itemStyle: { color: '#ff0000' },
      lineStyle: { color: '#ff6a6a', width: 1, type: [6, 4] }
    },
    loopSeries('red sweep up', redLoopUp, '#ff0000', 2, 2),
    loopSeries('red sweep down', redLoopDown, '#ff0000', 2, 2),
    arrowSeries(redArrows, '#ff0000', 2, 2),
    loopSeries('blue sweep up', blueLoopUp, '#0000ff', 4, 4),
    loopSeries('blue sweep down', blueLoopDown, '#0000ff', 4, 4),
    arrowSeries(blueArrows, '#0000ff', 4, 4)
  ],
  graphic: [
    // main axis titles
    { type: 'text', x: 494, y: 532, z: 10,
      style: { text: 'wavelength, in nm', font: 'bold 26px ' + FONT, fill: '#000', align: 'center', verticalAlign: 'middle' } },
    { type: 'text', x: 25, y: 261, rotation: Math.PI / 2, z: 10,
      style: { text: 'intensity, a.u.', font: 'bold 26px ' + FONT, fill: '#000', align: 'center', verticalAlign: 'middle' } },
    // main exponent
    { type: 'text', x: 67, y: 18, z: 10,
      style: { text: 'x 10', font: '15px ' + FONT, fill: '#000', align: 'left', verticalAlign: 'middle' } },
    { type: 'text', x: 100, y: 7, z: 10,
      style: { text: '-3', font: '11px ' + FONT, fill: '#000', align: 'left', verticalAlign: 'middle' } },
    // red inset texts
    { type: 'text', x: 258, y: 61, z: 10,
      style: { text: 'δ = 330pm', font: '23px ' + SERIF, fill: '#ff0000', align: 'center', verticalAlign: 'middle' } },
    { type: 'text', x: 265, y: 235, z: 10,
      style: { text: 'input power, mW', font: 'bold 18px ' + FONT, fill: '#000', align: 'center', verticalAlign: 'middle' } },
    { type: 'text', x: 106, y: 142, rotation: Math.PI / 2, z: 10,
      style: { text: 'output power, mW', font: 'bold 16px ' + FONT, fill: '#000', align: 'center', verticalAlign: 'middle' } },
    { type: 'text', x: 129, y: 68, z: 10,
      style: { text: 'x 10', font: '10px ' + FONT, fill: '#000', align: 'left', verticalAlign: 'middle' } },
    { type: 'text', x: 149, y: 63, z: 10,
      style: { text: '-3', font: '7.5px ' + FONT, fill: '#000', align: 'left', verticalAlign: 'middle' } },
    // blue inset texts
    { type: 'text', x: 774, y: 206, z: 10,
      style: { text: 'δ = 330pm', font: '23px ' + SERIF, fill: '#0000ff', align: 'center', verticalAlign: 'middle' } },
    { type: 'text', x: 779, y: 375, z: 10,
      style: { text: 'input power, mW', font: 'bold 17px ' + FONT, fill: '#000', align: 'center', verticalAlign: 'middle' } },
    { type: 'text', x: 635, y: 293, rotation: Math.PI / 2, z: 10,
      style: { text: 'output power, mW', font: 'bold 15px ' + FONT, fill: '#000', align: 'center', verticalAlign: 'middle' } },
    { type: 'text', x: 653, y: 218, z: 10,
      style: { text: 'x 10', font: '10px ' + FONT, fill: '#000', align: 'left', verticalAlign: 'middle' } },
    { type: 'text', x: 673, y: 213, z: 10,
      style: { text: '-3', font: '7.5px ' + FONT, fill: '#000', align: 'left', verticalAlign: 'middle' } }
  ]
};

chart.setOption(option);
</script>
</body>
</html>
